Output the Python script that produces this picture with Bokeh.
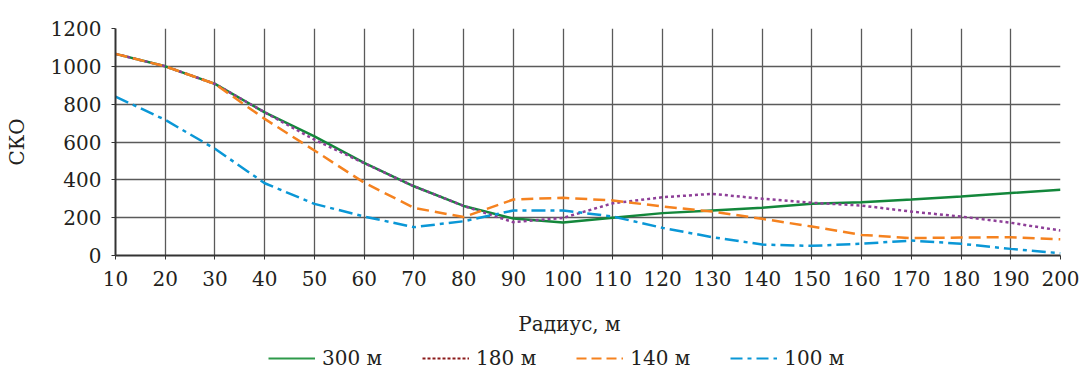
from bokeh.plotting import figure
from bokeh.models import Range1d, FixedTicker, Legend, LegendItem, Label
from bokeh.layouts import column
from bokeh.embed import file_html
from bokeh.resources import INLINE

radius = [10, 20, 30, 40, 50, 60, 70, 80, 90, 100, 110, 120, 130, 140, 150, 160, 170, 180, 190, 200]
sko_300 = [1066, 1000, 907, 757, 630, 490, 366, 262, 195, 174, 199, 224, 238, 252, 273, 282, 296, 312, 330, 347]
sko_180 = [1066, 1000, 907, 757, 612, 488, 366, 262, 176, 199, 276, 308, 326, 300, 279, 264, 232, 206, 173, 132]
sko_140 = [1066, 1000, 907, 722, 555, 385, 252, 203, 296, 305, 291, 259, 232, 194, 153, 109, 92, 95, 97, 86]
sko_100 = [840, 717, 564, 382, 273, 206, 150, 181, 238, 238, 206, 146, 97, 58, 51, 62, 79, 62, 35, 12]

x_ticks = list(range(10, 201, 10))
y_ticks = list(range(0, 1201, 200))
labels = ["300 м", "180 м", "140 м", "100 м"]
x_title = "Радиус, м"
y_title = "СКО"

FONT = "DejaVu Serif"
FS = "20px"
TXT = "#231f20"

p = figure(width=1082, height=300, output_backend="svg", toolbar_location=None,
           x_range=Range1d(10, 200), y_range=Range1d(0, 1200),
           min_border_left=115, min_border_right=22, min_border_top=28, min_border_bottom=45)
p.outline_line_color = None
p.background_fill_color = "white"

for ax in (p.xaxis[0], p.yaxis[0]):
    ax.major_label_text_font = FONT
    ax.major_label_text_font_size = FS
    ax.major_label_text_color = TXT
    ax.axis_label_text_font = FONT
    ax.axis_label_text_font_size = FS
    ax.axis_label_text_font_style = "normal"
    ax.axis_label_text_color = TXT
    ax.axis_line_color = "#333333"
    ax.axis_line_width = 2
    ax.major_tick_line_color = "#333333"
    ax.major_tick_in = 0
    ax.major_tick_out = 4
    ax.minor_tick_line_color = None

p.xaxis.ticker = FixedTicker(ticks=x_ticks)
p.yaxis.ticker = FixedTicker(ticks=y_ticks)
p.yaxis.axis_label = y_title
p.xaxis.major_label_standoff = 11
p.yaxis.major_label_standoff = 10
p.yaxis.axis_label_standoff = 19

p.xgrid.ticker = FixedTicker(ticks=x_ticks)
p.ygrid.ticker = FixedTicker(ticks=y_ticks)
for g in (p.xgrid[0], p.ygrid[0]):
    g.grid_line_color = "#5a5a5a"
    g.grid_line_width = 1.3

p.line(radius, sko_300, line_color="#13873b", line_width=2.5)
p.line(radius, sko_180, line_color="#8e3f98", line_width=2.5, line_dash="3 3")
p.line(radius, sko_140, line_color="#f5821f", line_width=2.5, line_dash="12 6")
p.line(radius, sko_100, line_color="#0a97d6", line_width=2.5, line_dash="14 5 4 5")

# strip below the chart holding the x-axis title and the legend
lf = figure(width=1082, height=71, output_backend="svg", toolbar_location=None,
            x_axis_type=None, y_axis_type=None, x_range=Range1d(0, 1), y_range=Range1d(0, 1),
            min_border_left=115, min_border_right=22, min_border_top=0, min_border_bottom=0)
lf.outline_line_color = None
lf.xgrid.visible = False
lf.ygrid.visible = False

lf.add_layout(Label(x=454, y=48, x_units="screen", y_units="screen", text=x_title,
                    text_align="center", text_baseline="middle",
                    text_font=FONT, text_font_size=FS, text_color=TXT))

# one off-range point each, so legend swatches get their styles
l1 = lf.line([-5], [-5], line_color="#2e9a4a", line_width=2)
l2 = lf.line([-5], [-5], line_color="#8b1a1a", line_width=2, line_dash="3 2")
l3 = lf.line([-5], [-5], line_color="#f5821f", line_width=2, line_dash="10 5")
l4 = lf.line([-5], [-5], line_color="#0a97d6", line_width=2, line_dash="12 5 4 5")

legend = Legend(items=[LegendItem(label=labels[0], renderers=[l1]),
                       LegendItem(label=labels[1], renderers=[l2]),
                       LegendItem(label=labels[2], renderers=[l3]),
                       LegendItem(label=labels[3], renderers=[l4])],
                orientation="horizontal", location=(153, 1),
                glyph_width=47, glyph_height=22, label_standoff=7, spacing=40,
                padding=0, margin=0, border_line_color=None, background_fill_alpha=0,
                label_text_font=FONT, label_text_font_size=FS, label_text_color=TXT)
lf.add_layout(legend, "center")

layout = column(p, lf, spacing=0)
open("out.html", "w").write(file_html(layout, INLINE))
